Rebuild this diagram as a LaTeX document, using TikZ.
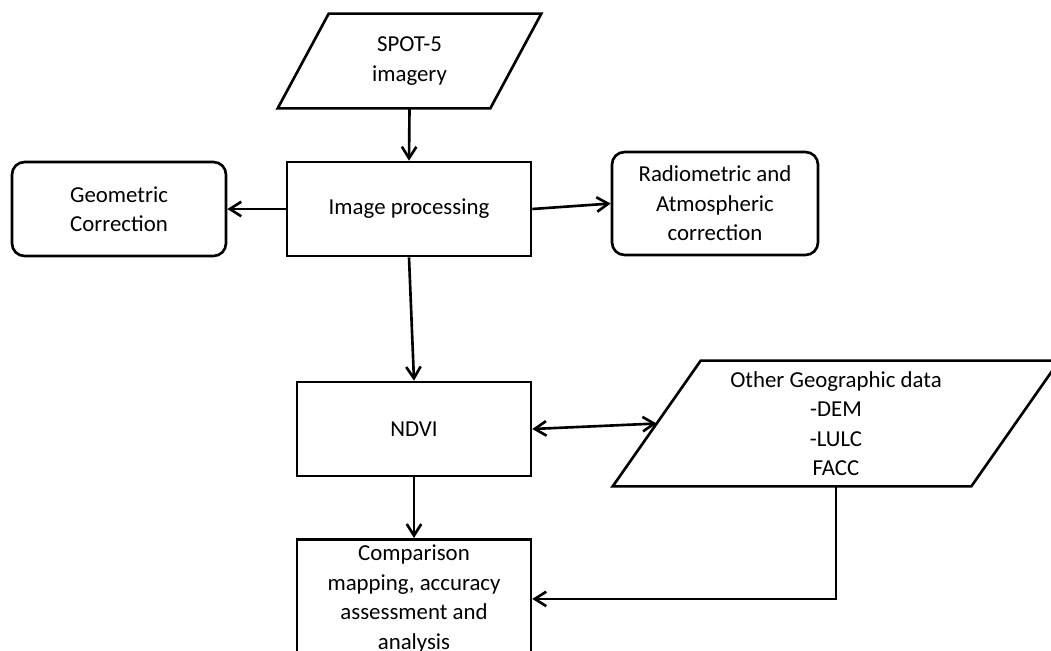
\documentclass[tikz,border=0pt]{standalone}
\usepackage{fontspec}
\setmainfont{Carlito}
\usetikzlibrary{arrows.meta}

\begin{document}
\begin{tikzpicture}[x=0.02cm,y=-0.02cm,
  font=\fontsize{13}{16.8}\selectfont,
  >={Straight Barb[length=2.3mm,width=2.9mm]},
  box/.style={draw,line width=1.5pt,align=center,inner sep=2pt},
  proc/.style={box,rectangle},
  side/.style={box,rectangle,rounded corners=0.25cm},
  data/.style={rectangle,align=center,inner sep=2pt},
  link/.style={line width=1.5pt,->}]
\path[use as bounding box,fill=white] (0,0) rectangle (1051,650);
%\draw[step=50,gray,very thin] (0,0) grid (1050,650); %background grid
\node[data,minimum width=4.24cm,minimum height=1.88cm] (spot) at (409.5,61) {SPOT-5\\imagery}; %input
\node[proc,minimum width=4.88cm,minimum height=1.88cm] (ip) at (409,209) {Image processing};
\node[side,minimum width=4.28cm,minimum height=1.88cm] (geo) at (119,209) {Geometric\\Correction};
\node[side,minimum width=4.12cm,minimum height=2.06cm] (rad) at (715,203.5) {Radiometric and\\Atmospheric\\correction};
\node[proc,minimum width=4.68cm,minimum height=1.88cm] (ndvi) at (414,429) {NDVI};
\node[data,minimum width=7.16cm,minimum height=2.5cm] (other) at (836,423.5) {Other Geographic data\\-DEM\\-LULC\\FACC}; %input
\node[proc,inner ysep=3.2pt,minimum width=4.68cm,anchor=north] (comp) at (414,538) {Comparison\\mapping, accuracy\\assessment and\\analysis};
% input parallelograms
\draw[line width=1.5pt] ([xshift=0.51cm]spot.north west) -- ([xshift=0.51cm]spot.north east)
  -- ([xshift=-0.51cm]spot.south east) -- ([xshift=-0.51cm]spot.south west) -- cycle;
\draw[line width=1.5pt] ([xshift=0.88cm]other.north west) -- ([xshift=0.88cm]other.north east)
  -- ([xshift=-0.88cm]other.south east) -- ([xshift=-0.88cm]other.south west) -- cycle;
% connectors
\draw[link] (spot.south) -- (ip.north);
\draw[link] (ip.west) -- (geo.east);
\draw[link] (ip.east) -- (rad.west);
\draw[link] (ip.south) -- (ndvi.north);
\draw[link,<->] (ndvi.east) -- (other.west);
\draw[link] (ndvi.south) -- (comp.north);
\draw[link] (other.south) |- (comp.east);
\end{tikzpicture}
\end{document}
